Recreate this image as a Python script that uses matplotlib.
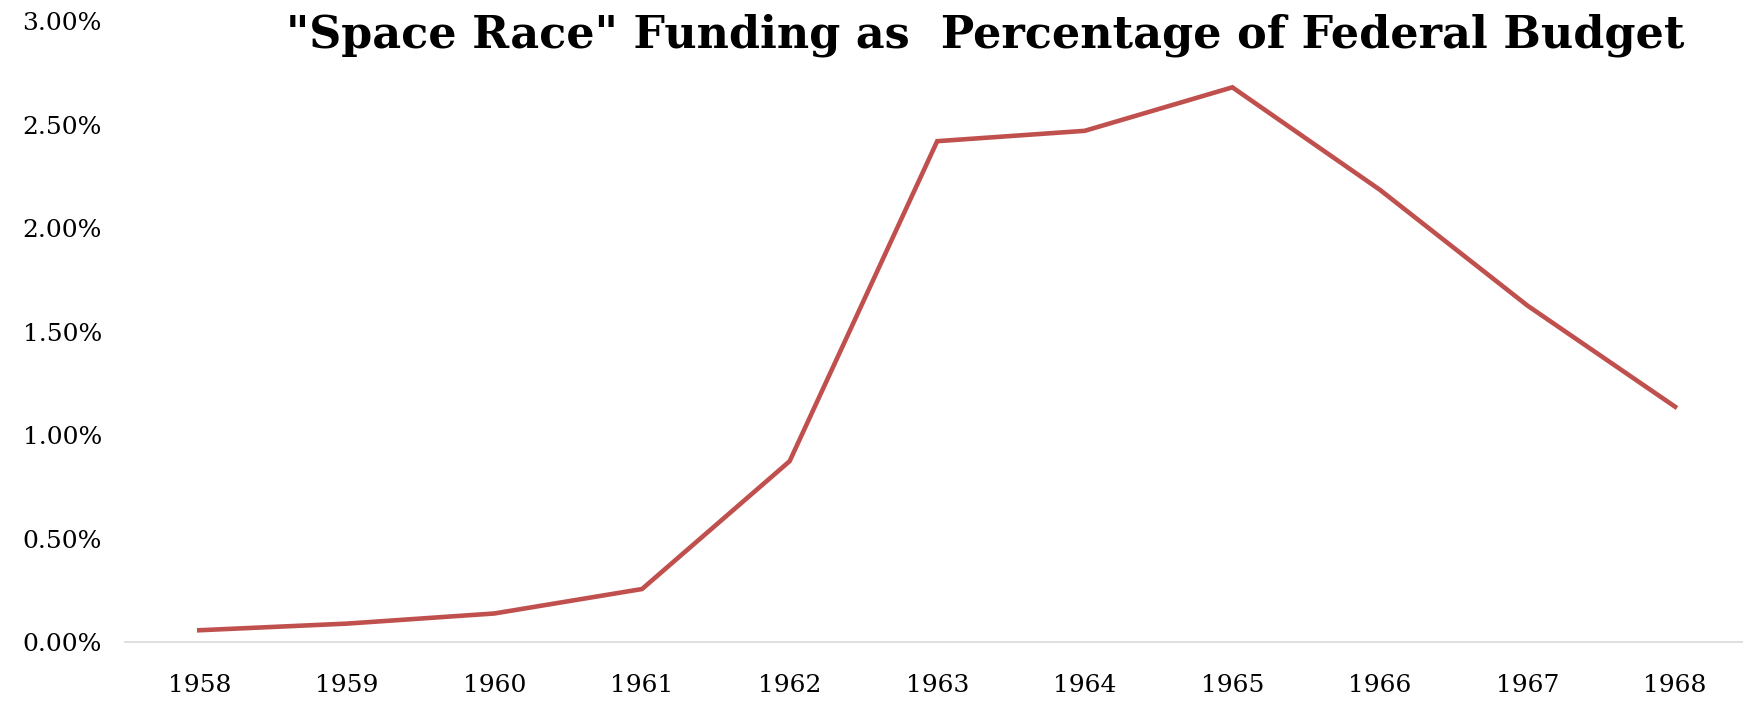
import matplotlib.pyplot as plt
from matplotlib.ticker import FuncFormatter

years = ["1958", "1959", "1960", "1961", "1962", "1963",
         "1964", "1965", "1966", "1967", "1968"]
pct = [0.059, 0.091, 0.140, 0.258, 0.875, 2.42,
       2.47, 2.68, 2.185, 1.626, 1.138]

plt.rcParams['font.family'] = ['DejaVu Serif']

fig = plt.figure(figsize=(17.43, 7.01), dpi=100)
ax = fig.add_axes([0.072, 0.0835, 0.928, 0.8865])

x = range(len(years))
ax.plot(x, pct, '-', color='#C0504D', lw=3.3, solid_joinstyle='miter')

ax.set_xlim(-0.5, len(years) - 0.54)
ax.set_ylim(0, 3.0)
ax.set_xticks(list(x))
ax.set_xticklabels(years)
ax.set_yticks([0, 0.5, 1.0, 1.5, 2.0, 2.5, 3.0])
ax.yaxis.set_major_formatter(FuncFormatter(lambda v, p: "%.2f%%" % v))

for s in ['top', 'right', 'left']:
    ax.spines[s].set_visible(False)
ax.spines['bottom'].set_color('#D9D9D9')
ax.spines['bottom'].set_linewidth(1.2)
ax.tick_params(axis='both', length=0, labelsize=18)
ax.tick_params(axis='y', pad=17)
ax.tick_params(axis='x', pad=23)

fig.text(0.565, 0.95, '"Space Race" Funding as  Percentage of Federal Budget',
         ha='center', va='center', fontsize=32, fontweight='bold')

plt.savefig('out.png', dpi=100)
